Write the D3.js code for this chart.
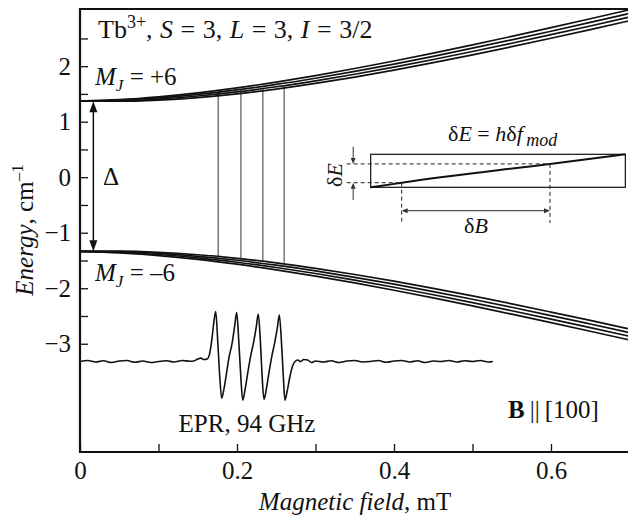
<!DOCTYPE html>
<html>
<head>
<meta charset="utf-8">
<script src="https://cdn.jsdelivr.net/npm/d3@7"></script>
<style>
body { margin: 0; background: #fff; }
svg { display: block; font-family: "Liberation Serif", "Times New Roman", serif; }
</style>
</head>
<body>
<svg id="chart" width="628" height="522"></svg>
<script>
// field values (x) at which the level curves were read
var fieldB = [0, 0.05, 0.1, 0.15, 0.2, 0.25, 0.3, 0.35, 0.4, 0.45, 0.5, 0.55, 0.6, 0.65, 0.7];

// M_J = +6 branch, four hyperfine lines (top line first)
var upper1 = [1.370, 1.397, 1.448, 1.519, 1.608, 1.713, 1.830, 1.958, 2.093, 2.236, 2.384, 2.537, 2.694, 2.854, 3.017];
var upper2 = [1.370, 1.387, 1.428, 1.491, 1.573, 1.671, 1.783, 1.906, 2.038, 2.178, 2.324, 2.475, 2.630, 2.789, 2.951];
var upper3 = [1.370, 1.377, 1.409, 1.463, 1.537, 1.629, 1.736, 1.855, 1.983, 2.120, 2.264, 2.413, 2.567, 2.724, 2.885];
var upper4 = [1.370, 1.368, 1.390, 1.435, 1.502, 1.588, 1.689, 1.803, 1.929, 2.063, 2.204, 2.351, 2.503, 2.659, 2.818];

// M_J = -6 branch
var lower1 = [-1.335, -1.332, -1.353, -1.397, -1.461, -1.543, -1.641, -1.752, -1.873, -2.002, -2.139, -2.281, -2.429, -2.580, -2.734];
var lower2 = [-1.335, -1.342, -1.372, -1.425, -1.496, -1.585, -1.688, -1.803, -1.927, -2.060, -2.199, -2.343, -2.492, -2.645, -2.800];
var lower3 = [-1.335, -1.352, -1.392, -1.452, -1.532, -1.627, -1.735, -1.854, -1.982, -2.118, -2.259, -2.405, -2.556, -2.710, -2.866];
var lower4 = [-1.335, -1.362, -1.411, -1.480, -1.567, -1.668, -1.782, -1.905, -2.037, -2.175, -2.319, -2.467, -2.620, -2.775, -2.932];

// resonance transitions
var transB = [0.176, 0.205, 0.233, 0.260];
var transTop = [1.54, 1.57, 1.60, 1.63];
var transBottom = [-1.42, -1.46, -1.50, -1.54];

// EPR trace (field, signal in arb. units)
var eprB = [0, 0.01, 0.02, 0.03, 0.04, 0.05, 0.06, 0.07, 0.08, 0.09, 0.10, 0.11, 0.12, 0.13, 0.14,
	0.145, 0.150, 0.154, 0.158, 0.162, 0.165, 0.168, 0.1705, 0.1729, 0.1755, 0.178, 0.1805, 0.1835, 0.187,
	0.190, 0.1935, 0.197, 0.1996, 0.2025, 0.205, 0.2073, 0.2105, 0.214, 0.2175, 0.221, 0.2245, 0.2271,
	0.2300, 0.232, 0.2344, 0.2375, 0.241, 0.2445, 0.248, 0.2515, 0.2539, 0.2568, 0.2590, 0.2611, 0.264,
	0.2675, 0.271, 0.274, 0.2775, 0.281, 0.285, 0.29, 0.295, 0.30,
	0.31, 0.32, 0.33, 0.34, 0.35, 0.36, 0.37, 0.38, 0.39, 0.40, 0.41, 0.42, 0.43, 0.44, 0.45, 0.46,
	0.47, 0.48, 0.49, 0.50, 0.51, 0.52, 0.526];
var eprS = [0, 0.02, -0.01, 0.015, -0.02, 0.01, 0.02, -0.015, 0.01, -0.02, 0.0, 0.015, -0.01, 0.02, 0.005,
	0.01, 0.05, 0.07, 0.04, 0.05, 0.15, 0.45, 0.8, 1.02, 0.4, -0.3, -0.75, -0.55, -0.2,
	0.1, 0.35, 0.72, 1.0, 0.35, -0.35, -0.79, -0.55, -0.2, 0.12, 0.38, 0.7, 0.97,
	0.35, -0.3, -0.77, -0.55, -0.2, 0.12, 0.38, 0.7, 0.95, 0.35, -0.3, -0.79, -0.6,
	-0.3, -0.08, 0.0, 0.03, 0.0, 0.04, 0.03, -0.02, 0.01,
	-0.01, 0.015, -0.02, 0.01, 0.02, -0.01, 0.0, 0.02, -0.015, 0.01, 0.02, -0.01, 0.015, -0.02, 0.01, 0.0,
	0.02, -0.01, 0.015, 0.0, 0.02, -0.01, 0.0];

var yTicks = d3.range(-3, 2.51, 0.5);
var xTicks = [0.1, 0.2, 0.3, 0.4, 0.5, 0.6];
var xLabels = [0, 0.2, 0.4, 0.6];

var svg = d3.select('#chart'),
	FONT = 25,
	SMALL = 22,
	x = d3.scaleLinear().domain([0, 0.7]).range([80, 629.5]),
	y = d3.scaleLinear().domain([-4.95, 3.03]).range([452, 9]),
	eprBase = -3.32,
	yEpr = d3.scaleLinear().domain([-1, 1]).range([y(eprBase) + 49, y(eprBase) - 49]);

svg.append('defs').append('clipPath').attr('id', 'plot')
	.append('rect').attr('x', 80).attr('y', 9).attr('width', 548).attr('height', 443);

// axes
var gy = svg.append('g').attr('transform', 'translate(80,0)')
	.call(d3.axisLeft(y).tickValues(yTicks).tickSize(-8).tickPadding(9)
		.tickFormat(function (d) { return d % 1 === 0 ? d3.format('d')(d) : ''; }));
var gx = svg.append('g').attr('transform', 'translate(0,452)')
	.call(d3.axisBottom(x).tickValues(xTicks.concat([0])).tickSize(-8).tickPadding(9)
		.tickFormat(function (d) { return xLabels.indexOf(d) >= 0 ? (d === 0 ? '0' : d3.format('.1f')(d)) : ''; }));
[gx, gy].forEach(function (g) {
	g.attr('font-family', null).attr('font-size', FONT);
	g.select('.domain').remove();
	g.selectAll('.tick line').attr('stroke', '#111').attr('stroke-width', 1.3);
	g.selectAll('.tick text').attr('fill', '#111');
});

// frame
var frame = [[80, 9, 80, 452], [79, 452, 628, 452], [79, 9, 628, 9]];
svg.append('g').selectAll('line').data(frame).enter().append('line')
	.attr('x1', function (d) { return d[0]; }).attr('y1', function (d) { return d[1]; })
	.attr('x2', function (d) { return d[2]; }).attr('y2', function (d) { return d[3]; })
	.attr('stroke', '#111').attr('stroke-width', 2.2);

var plot = svg.append('g').attr('clip-path', 'url(#plot)');

// transitions
plot.append('g').selectAll('line').data(transB).enter().append('line')
	.attr('x1', function (d) { return x(d); }).attr('x2', function (d) { return x(d); })
	.attr('y1', function (d, i) { return y(transTop[i]); })
	.attr('y2', function (d, i) { return y(transBottom[i]); })
	.attr('stroke', '#333').attr('stroke-width', 1);

// levels
var levels = [upper1, upper2, upper3, upper4, lower1, lower2, lower3, lower4];
var line = d3.line()
	.x(function (d, i) { return x(fieldB[i]); })
	.y(function (d) { return y(d); })
	.curve(d3.curveMonotoneX);
plot.append('g').selectAll('path').data(levels).enter().append('path')
	.attr('d', line).attr('fill', 'none').attr('stroke', '#111').attr('stroke-width', 1.7);

// EPR trace
var eprLine = d3.line()
	.x(function (d, i) { return x(eprB[i]); })
	.y(function (d) { return yEpr(d); })
	.curve(d3.curveMonotoneX);
plot.append('path').datum(eprS).attr('d', eprLine)
	.attr('fill', 'none').attr('stroke', '#111').attr('stroke-width', 1.6);

// delta arrow
var ax = x(0.017), aTop = y(1.37), aBot = y(-1.335);
svg.append('line').attr('x1', ax).attr('x2', ax).attr('y1', aTop + 8).attr('y2', aBot - 8)
	.attr('stroke', '#111').attr('stroke-width', 1.5);
svg.append('path').attr('d', 'M' + ax + ',' + aTop + 'l-4,11h8z').attr('fill', '#111');
svg.append('path').attr('d', 'M' + ax + ',' + aBot + 'l-4,-11h8z').attr('fill', '#111');

// text helper
function label(px, py, parts, opt) {
	opt = opt || {};
	var t = svg.append('text').attr('x', px).attr('y', py).attr('font-size', opt.size || FONT)
		.attr('fill', '#111').attr('text-anchor', opt.anchor || 'start');
	if (opt.transform) t.attr('transform', opt.transform).attr('x', 0).attr('y', 0);
	if (opt.ws) t.attr('word-spacing', opt.ws);
	parts.forEach(function (p) {
		var s = t.append('tspan').text(p.t);
		if (p.i) s.attr('font-style', 'italic');
		if (p.b) s.attr('font-weight', 'bold');
		if (p.s) s.attr('font-size', p.s);
		if (p.dy) s.attr('dy', p.dy);
	});
	return t;
}

label(98, 38, [{t: 'Tb'}, {t: '3+', s: 18, dy: -10}, {t: ', ', dy: 10}, {t: 'S', i: 1}, {t: ' = 3, '},
	{t: 'L', i: 1}, {t: ' = 3, '}, {t: 'I', i: 1}, {t: ' = 3/2'}], {size: 26, ws: 1});
label(95, 85, [{t: 'M', i: 1}, {t: 'J', i: 1, s: 17, dy: 6}, {t: ' = +6', dy: -6}]);
label(95, 281, [{t: 'M', i: 1}, {t: 'J', i: 1, s: 17, dy: 6}, {t: ' = \u20136', dy: -6}]);
label(103, 185, [{t: '\u0394'}]);
label(247, 432, [{t: 'EPR, 94 GHz'}], {anchor: 'middle'});
label(508, 418, [{t: 'B', b: 1}, {t: '\u2009||\u2009'}, {t: '[100]'}]);
label(355, 510, [{t: 'Magnetic field', i: 1}, {t: ', mT'}], {anchor: 'middle'});
label(0, 0, [{t: 'Energy', i: 1}, {t: ', cm'}, {t: '\u20131', s: 17, dy: -10}],
	{anchor: 'middle', transform: 'translate(33,230) rotate(-90)'});

// inset sketch
var inset = svg.append('g');
inset.append('rect').attr('x', x(0.3703)).attr('y', y(0.4125))
	.attr('width', x(0.6947) - x(0.3703)).attr('height', y(-0.182) - y(0.4125))
	.attr('fill', 'none').attr('stroke', '#111').attr('stroke-width', 1.2);
var sketch = [[0.3703, -0.182], [0.3822, -0.1585], [0.4098, -0.099], [0.5987, 0.2396], [0.6947, 0.4125]];
inset.append('path').datum(sketch)
	.attr('d', d3.line().x(function (d) { return x(d[0]); }).y(function (d) { return y(d[1]); }).curve(d3.curveMonotoneX))
	.attr('fill', 'none').attr('stroke', '#111').attr('stroke-width', 2);
var dashes = [[0.3397, -0.099, 0.4098, -0.099], [0.3397, 0.2396, 0.5987, 0.2396],
	[0.4098, -0.099, 0.4098, -0.825], [0.5987, 0.2396, 0.5987, -0.825]];
inset.selectAll('line.dash').data(dashes).enter().append('line').attr('class', 'dash')
	.attr('x1', function (d) { return x(d[0]); }).attr('y1', function (d) { return y(d[1]); })
	.attr('x2', function (d) { return x(d[2]); }).attr('y2', function (d) { return y(d[3]); })
	.attr('stroke', '#222').attr('stroke-width', 1).attr('stroke-dasharray', '4,3');
// dB arrow
var bY = y(-0.603), bL = x(0.4098), bR = x(0.5987);
inset.append('line').attr('x1', bL + 2).attr('x2', bR - 2).attr('y1', bY).attr('y2', bY)
	.attr('stroke', '#555').attr('stroke-width', 1.2);
inset.append('path').attr('d', 'M' + bL + ',' + bY + 'l6,-2.5v5z').attr('fill', '#333');
inset.append('path').attr('d', 'M' + bR + ',' + bY + 'l-6,-2.5v5z').attr('fill', '#333');
// dE arrows
var eX = x(0.348), eT = y(0.2396), eB = y(-0.099);
inset.append('line').attr('x1', eX).attr('x2', eX).attr('y1', y(0.55)).attr('y2', eT - 3)
	.attr('stroke', '#333').attr('stroke-width', 1);
inset.append('path').attr('d', 'M' + eX + ',' + eT + 'l-2.5,-6h5z').attr('fill', '#333');
inset.append('line').attr('x1', eX).attr('x2', eX).attr('y1', y(-0.41)).attr('y2', eB + 3)
	.attr('stroke', '#333').attr('stroke-width', 1);
inset.append('path').attr('d', 'M' + eX + ',' + eB + 'l-2.5,6h5z').attr('fill', '#333');

label(476, 233, [{t: '\u03b4'}, {t: 'B', i: 1}], {anchor: 'middle', size: SMALL});
label(0, 0, [{t: '\u03b4'}, {t: 'E', i: 1}], {anchor: 'middle', size: SMALL, transform: 'translate(342,175) rotate(-90)'});
label(448, 141, [{t: '\u03b4'}, {t: 'E', i: 1}, {t: ' = '}, {t: 'h', i: 1}, {t: '\u03b4'}, {t: 'f', i: 1},
	{t: '\u2009mod', i: 1, s: 18, dy: 5}], {size: SMALL});
</script>
</body>
</html>
